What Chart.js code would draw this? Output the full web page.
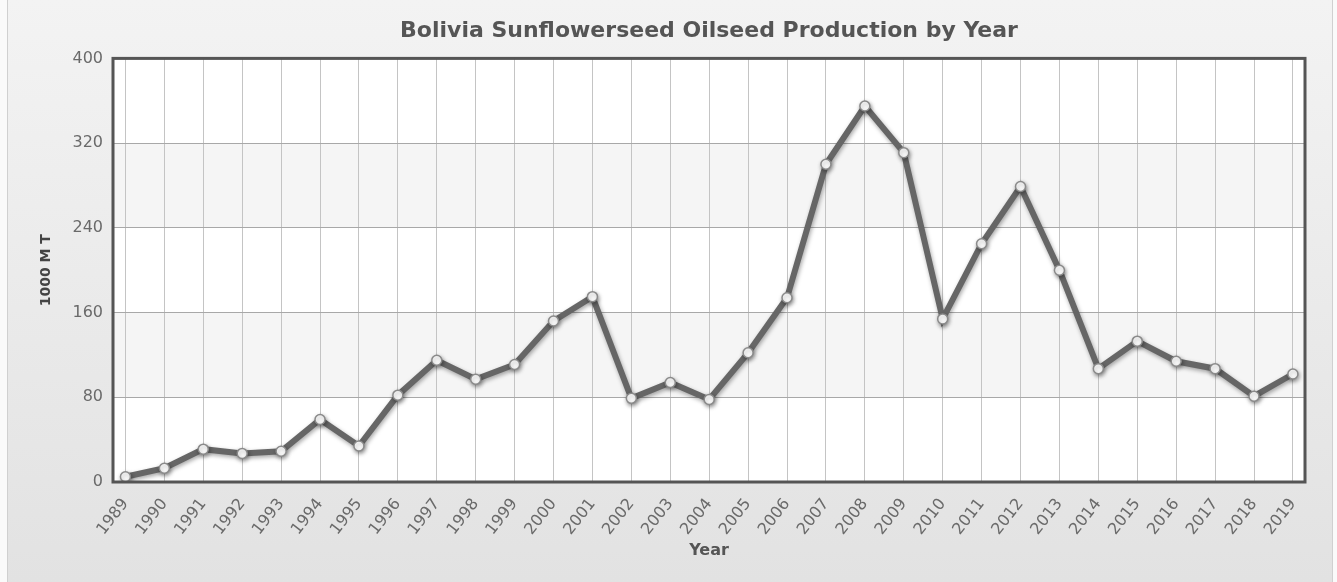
<!DOCTYPE html>
<html>
<head>
<meta charset="utf-8">
<script src="https://cdn.jsdelivr.net/npm/chart.js@4/dist/chart.umd.min.js"></script>
<style>
    body { margin: 0; background: #fff; }
    #chart { display: block; }
</style>
</head>
<body>
<canvas id="chart" width="1337" height="582"></canvas>
<script>
const years = [1989, 1990, 1991, 1992, 1993, 1994, 1995, 1996, 1997, 1998, 1999, 2000,
    2001, 2002, 2003, 2004, 2005, 2006, 2007, 2008, 2009, 2010, 2011, 2012, 2013,
    2014, 2015, 2016, 2017, 2018, 2019];
const production = [5, 13, 31, 27, 29, 59, 34, 82, 115, 97, 111, 152,
    175, 79, 94, 78, 122, 174, 300, 355, 311, 154, 225, 279, 200,
    107, 133, 114, 107, 81, 102];
const yTicks = [0, 80, 160, 240, 320, 400];

const chartTitle = 'Bolivia Sunflowerseed Oilseed Production by Year';
const xTitle = 'Year';
const yTitle = '1000 M T';

const ctx = document.getElementById('chart').getContext('2d');

// page background, plot fill and alternating bands
const backdrop = {
    id: 'backdrop',
    beforeDraw(chart) {
        const c = chart.ctx;
        const { left, right, top, bottom } = chart.chartArea;
        const g = c.createLinearGradient(0, 0, 0, chart.height);
        g.addColorStop(0, '#f3f3f3');
        g.addColorStop(1, '#e2e2e2');
        c.save();
        c.fillStyle = '#fafafa';
        c.fillRect(0, 0, chart.width, chart.height);
        c.fillStyle = g;
        c.fillRect(7, 0, 1326, chart.height);
        c.fillStyle = '#d0d0d0';
        c.fillRect(7, 0, 1, chart.height);
        c.fillRect(1332, 0, 1, chart.height);

        c.fillStyle = '#ffffff';
        c.fillRect(left, top, right - left, bottom - top);
        const ys = chart.scales.y;
        c.fillStyle = '#f5f5f5';
        for (let i = 1; i < yTicks.length - 1; i += 2) {
            const y1 = ys.getPixelForValue(yTicks[i]);
            const y2 = ys.getPixelForValue(yTicks[i + 1]);
            c.fillRect(left, y2, right - left, y1 - y2);
        }
        c.restore();
    },
    beforeDatasetsDraw(chart) {
        const c = chart.ctx;
        c.save();
        c.shadowColor = 'rgba(0,0,0,0.35)';
        c.shadowBlur = 4;
        c.shadowOffsetX = 1;
        c.shadowOffsetY = 2;
    },
    afterDatasetsDraw(chart) {
        chart.ctx.restore();
        const c = chart.ctx;
        const { left, right, top, bottom } = chart.chartArea;
        c.save();
        c.strokeStyle = '#555';
        c.lineWidth = 3;
        c.strokeRect(left, top, right - left, bottom - top);
        c.restore();
    }
};

new Chart(ctx, {
    type: 'line',
    data: {
        datasets: [{
            data: years.map((yr, i) => ({ x: yr, y: production[i] })),
            borderColor: '#666666',
            borderWidth: 6,
            pointRadius: 5,
            pointBackgroundColor: '#ffffff',
            pointBorderColor: '#8a8a8a',
            pointBorderWidth: 1.5,
            tension: 0
        }]
    },
    options: {
        responsive: false,
        animation: false,
        layout: { padding: { left: 20, right: 32, top: 0, bottom: 0 } },
        plugins: {
            legend: { display: false },
            tooltip: { enabled: false },
            title: {
                display: true,
                fullSize: false,
                text: chartTitle,
                color: '#555555',
                font: { family: 'DejaVu Sans', size: 22, weight: 'bold' },
                padding: { top: 18, bottom: 14 }
            }
        },
        scales: {
            x: {
                type: 'linear',
                min: 1988.68,
                max: 2019.31,
                afterFit(scale) { scale.height = 100; },
                grid: { color: '#c4c4c4', lineWidth: 1, drawTicks: false },
                border: { display: false },
                ticks: {
                    stepSize: 1,
                    includeBounds: false,
                    autoSkip: false,
                    maxRotation: 52,
                    minRotation: 52,
                    padding: 13,
                    color: '#6a6a6a',
                    font: { family: 'DejaVu Sans', size: 16 },
                    callback: v => String(v)
                },
                title: {
                    display: true,
                    text: xTitle,
                    color: '#555555',
                    font: { family: 'DejaVu Sans', size: 16, weight: 'bold' },
                    padding: { top: 0, bottom: 22 }
                }
            },
            y: {
                min: 0,
                max: 400,
                afterFit(scale) { scale.width = 93; },
                afterBuildTicks(scale) { scale.ticks = yTicks.map(v => ({ value: v })); },
                grid: { color: '#a8a8a8', lineWidth: 1, drawTicks: false },
                border: { display: false },
                ticks: {
                    padding: 10,
                    color: '#6a6a6a',
                    font: { family: 'DejaVu Sans', size: 16 }
                },
                title: {
                    display: true,
                    text: yTitle,
                    color: '#444444',
                    font: { family: 'DejaVu Sans', size: 14, weight: 'bold' },
                    padding: { top: 18, bottom: 0 }
                }
            }
        }
    },
    plugins: [backdrop]
});
</script>
</body>
</html>
